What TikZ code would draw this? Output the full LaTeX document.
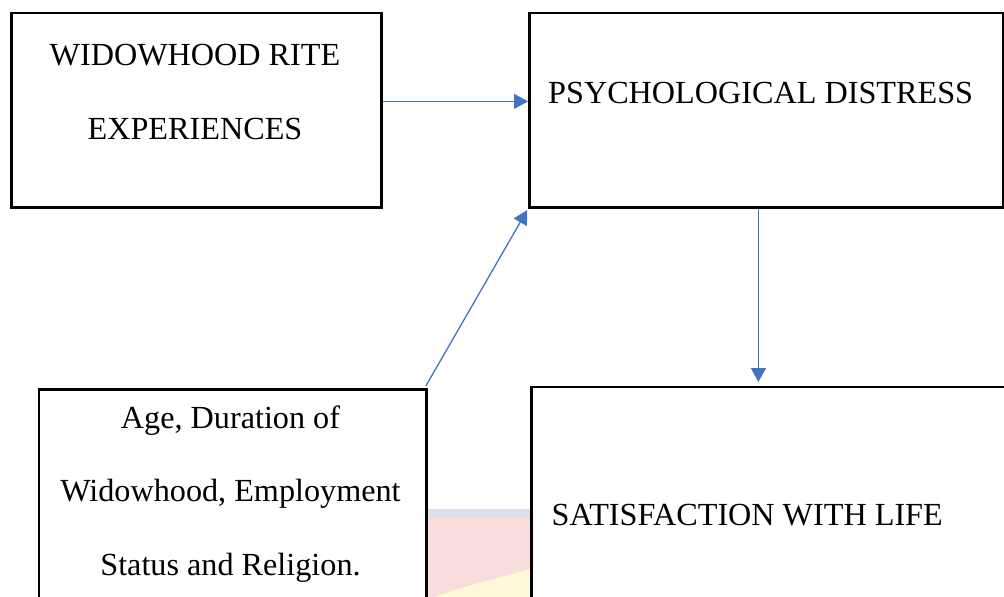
\documentclass[tikz,border=0pt]{standalone}
\usepackage{fontspec}
\setmainfont{Liberation Serif}
\usetikzlibrary{arrows.meta}
\definecolor{flowblue}{HTML}{4472C4}
\newcommand\boxfont{\fontsize{32.2}{74}\selectfont}
\tikzset{
  box/.style={draw=black, line width=2.8pt, fill=white, rectangle, anchor=north west, inner sep=0pt},
  lbl/.style={font=\boxfont, inner sep=0pt, anchor=base},
  flow/.style={draw=flowblue, line width=1.3pt, -{Triangle[length=14pt,width=15pt]}}
}
\begin{document}
\begin{tikzpicture}[x=1pt,y=-1pt]
      \useasboundingbox (0,0) rectangle (1004,597);
      % page behind the picture
      \fill[fill={rgb,255:red,221;green,224;blue,232}] (425,509) rectangle (530,518);
      \fill[fill={rgb,255:red,249;green,220;blue,220}] (425,518) rectangle (530,597);
      \fill[fill={rgb,255:red,255;green,249;blue,218}] (435,597) .. controls (470,584) and (500,578) .. (530,569) -- (530,597) -- cycle;
      \draw
        (10,11.5) node[box, minimum width=370pt, minimum height=194.5pt] (wr){}
        (528,11.5) node[box, minimum width=474pt, minimum height=194.5pt] (pd){}
        (37.5,388) node[box, minimum width=387.5pt, minimum height=240pt] (dm){}
        (530,385.5) node[box, minimum width=480pt, minimum height=240pt] (sw){};
      \draw
        (195,65) node[lbl] (wr1){WIDOWHOOD RITE}
        (195,139) node[lbl] (wr2){EXPERIENCES}
        (548,103.3) node[lbl, anchor=base west] (pd1){PSYCHOLOGICAL DISTRESS}
        (230.5,428.5) node[lbl] (dm1){Age, Duration of}
        (230.5,501.7) node[lbl] (dm2){Widowhood, Employment}
        (230.5,575) node[lbl] (dm3){Status and Religion.}
        (551.5,525.7) node[lbl, anchor=base west] (sw1){SATISFACTION WITH LIFE};
      \begin{scope}[flow]
        \draw ([yshift=8.75pt]wr.east) -- ([yshift=8.75pt]pd.west);
        \draw ([xshift=-8pt]pd.south) -- ([xshift=-8pt]pd.south |- sw.north) [shorten >=3.5pt];
        \draw ([xshift=-2pt,yshift=2pt]dm.north east) -- (pd.south west) [shorten >=1.5pt];
      \end{scope}
    \end{tikzpicture}
\end{document}
